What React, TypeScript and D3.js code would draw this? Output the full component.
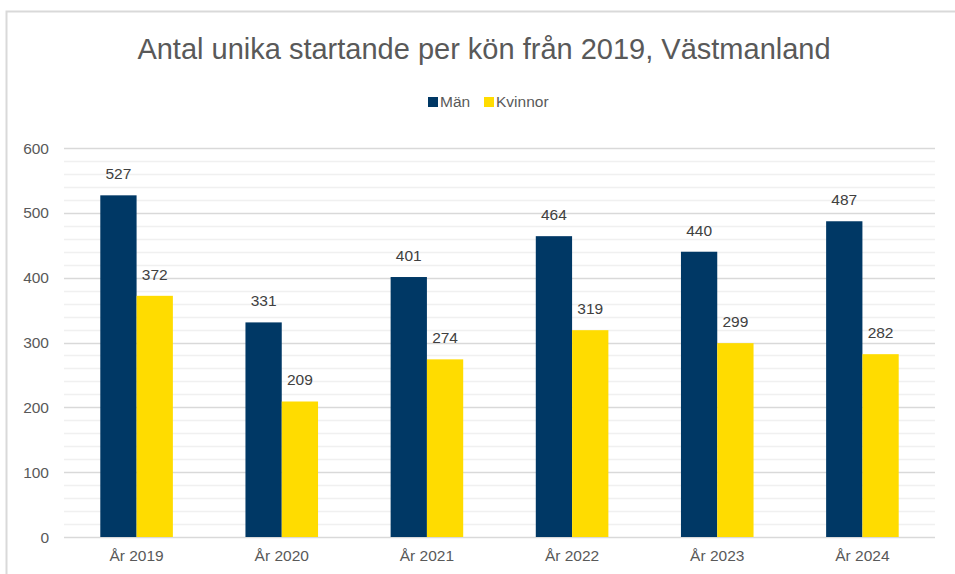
import * as d3 from "d3";
import { useEffect, useRef } from "react";

const years = ["År 2019", "År 2020", "År 2021", "År 2022", "År 2023", "År 2024"];
const man = [527, 331, 401, 464, 440, 487];
const kvinnor = [372, 209, 274, 319, 299, 282];
const seriesNames = ["Män", "Kvinnor"];
const seriesColors = ["#003865", "#FFDC00"];
const yTicks = [0, 100, 200, 300, 400, 500, 600];

export default function App() {
  const ref = useRef<SVGSVGElement>(null);

  useEffect(() => {
    const width = 955;
    const height = 574;
    const svg = d3.select(ref.current);
    svg.selectAll("*").remove();

    const font = "Arial, 'Liberation Sans', sans-serif";
    const fs = "15.5px";
    const left = 64, right = 935, top = 148, bottom = 537;

    // chart frame
    svg.append("rect")
      .attr("x", 6.5).attr("y", 11.5)
      .attr("width", 960).attr("height", 600)
      .attr("fill", "#fff").attr("stroke", "#d9d9d9").attr("stroke-width", 2);

    svg.append("text")
      .attr("x", 484).attr("y", 59)
      .attr("text-anchor", "middle")
      .style("font-family", font).style("font-size", "29px")
      .attr("fill", "#595959")
      .text("Antal unika startande per kön från 2019, Västmanland");

    const x0 = d3.scaleBand().domain(years).range([left, right]);
    const x1 = d3.scaleBand().domain(seriesNames).range([0, x0.bandwidth()]).paddingInner(0).paddingOuter(1);
    const y = d3.scaleLinear().domain([0, 600]).range([bottom, top]);

    // minor gridlines
    const minor = d3.range(20, 600, 20).filter((v) => v % 100 !== 0);
    svg.append("g").selectAll("line").data(minor).enter().append("line")
      .attr("x1", left).attr("x2", right)
      .attr("y1", (d) => Math.round(y(d)) + 0.5).attr("y2", (d) => Math.round(y(d)) + 0.5)
      .attr("stroke", "#f0f0f0").attr("stroke-width", 1.5);

    // major gridlines
    svg.append("g").selectAll("line").data(yTicks).enter().append("line")
      .attr("x1", left).attr("x2", right)
      .attr("y1", (d) => Math.round(y(d)) + 0.5).attr("y2", (d) => Math.round(y(d)) + 0.5)
      .attr("stroke", "#d9d9d9").attr("stroke-width", 1.5);

    svg.append("g").selectAll("text").data(yTicks).enter().append("text")
      .attr("x", 49).attr("y", (d) => y(d) + 5.5)
      .attr("text-anchor", "end")
      .style("font-family", font).style("font-size", fs)
      .attr("fill", "#595959")
      .text((d) => d);

    const data = [man, kvinnor];
    seriesNames.forEach((name, si) => {
      const g = svg.append("g");
      g.selectAll("rect").data(data[si]).enter().append("rect")
        .attr("x", (_d, i) => x0(years[i])! + x1(name)!)
        .attr("y", (d) => y(d))
        .attr("width", x1.bandwidth())
        .attr("height", (d) => bottom - y(d))
        .attr("fill", seriesColors[si]);
      g.selectAll("text").data(data[si]).enter().append("text")
        .attr("x", (_d, i) => x0(years[i])! + x1(name)! + x1.bandwidth() / 2)
        .attr("y", (d) => y(d) - 16)
        .attr("text-anchor", "middle")
        .style("font-family", font).style("font-size", fs)
        .attr("fill", "#404040")
        .text((d) => d);
    });

    svg.append("g").selectAll("text").data(years).enter().append("text")
      .attr("x", (d) => x0(d)! + x0.bandwidth() / 2)
      .attr("y", 561)
      .attr("text-anchor", "middle")
      .style("font-family", font).style("font-size", fs)
      .attr("fill", "#595959")
      .text((d) => d);

    // legend
    const legendX = [428, 484];
    seriesNames.forEach((name, i) => {
      svg.append("rect")
        .attr("x", legendX[i]).attr("y", 97)
        .attr("width", 10).attr("height", 10)
        .attr("fill", seriesColors[i]);
      svg.append("text")
        .attr("x", legendX[i] + 12).attr("y", 107)
        .style("font-family", font).style("font-size", fs)
        .attr("fill", "#595959")
        .text(name);
    });

    svg.attr("width", width).attr("height", height);
  }, []);

  return (
    <svg
      ref={ref}
      width={955}
      height={574}
      style={{ position: "absolute", left: 0, top: 0 }}
    />
  );
}
